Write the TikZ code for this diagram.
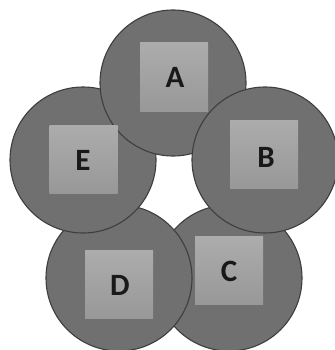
\documentclass[tikz,border=0pt]{standalone}
\usepackage{fontspec}
\setmainfont{Carlito}
\definecolor{ringfill}{RGB}{112,112,112}
\definecolor{ringline}{RGB}{62,62,62}
\definecolor{boxtop}{RGB}{172,172,172}
\definecolor{boxbot}{RGB}{152,152,152}
\begin{document}
\begin{tikzpicture}[x=1pt,y=-1pt,
  ring/.style={circle,draw=ringline,line width=1.1pt,fill=ringfill,minimum size=146pt,inner sep=0pt},
  box/.style={rectangle,minimum size=68pt,inner sep=0pt,top color=boxtop,bottom color=boxbot,draw=none},
  lab/.style={font=\fontsize{31}{33}\selectfont\bfseries,text=black!90,inner sep=0pt}]
\useasboundingbox (0,0) rectangle (334,350);
% circles in stacking order
\node[ring] (cC) at (229,278) {};
\node[ring] (cD) at (119,278) {};
\node[ring] (cE) at (83,160) {};
\node[ring] (cA) at (173,83) {};
\node[ring] (cB) at (265,160) {};
% squares
\node[box] (sA) at (174,77) {};
\node[box] (sB) at (264,154) {};
\node[box] (sC) at (229,270.5) {};
\node[box] (sD) at (119,284.5) {};
\node[box] (sE) at (83.5,159) {};
% labels
\node[lab] (tA) at (175,77) {A};
\node[lab] (tB) at (266,157) {B};
\node[lab] (tC) at (229,271) {C};
\node[lab] (tD) at (120,285) {D};
\node[lab] (tE) at (83,160) {E};
\end{tikzpicture}
\end{document}
